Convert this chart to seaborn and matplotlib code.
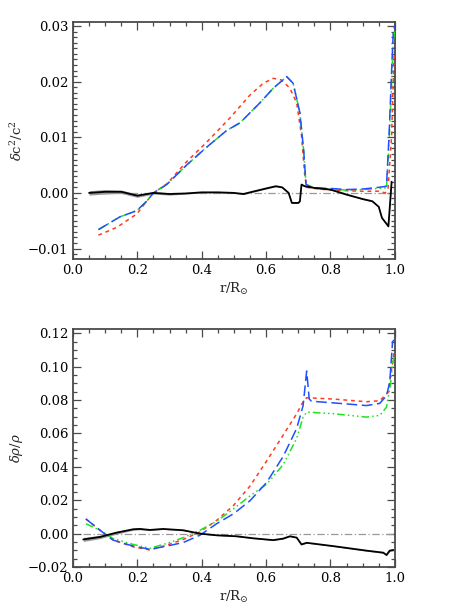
import numpy as np
import pandas as pd
import matplotlib
matplotlib.use("Agg")
import matplotlib.pyplot as plt
from matplotlib.ticker import MultipleLocator
import seaborn as sns

# ---------------- data: top panel (delta c^2 / c^2) ----------------
c_red_r = [0.079, 0.136, 0.198, 0.229, 0.25, 0.291, 0.353, 0.415, 0.488, 0.55, 0.591,
           0.622, 0.648, 0.674, 0.695, 0.71, 0.72, 0.726, 0.75, 0.8, 0.85, 0.9, 0.95,
           0.97, 0.979, 0.99, 0.995, 0.998]
c_red_v = [-0.0076, -0.0062, -0.0038, -0.0015, 0.0, 0.0016, 0.0056, 0.0091, 0.0135, 0.0176,
           0.0197, 0.0206, 0.0203, 0.0188, 0.0162, 0.0103, 0.0032, 0.0010, 0.0008, 0.0005,
           0.0004, 0.0003, 0.0003, 0.0, 0.0009, 0.0103, 0.0203, 0.0250]

c_blue_r = [0.079, 0.146, 0.198, 0.229, 0.25, 0.291, 0.353, 0.415, 0.477, 0.519, 0.581,
            0.622, 0.664, 0.684, 0.705, 0.717, 0.724, 0.75, 0.8, 0.85, 0.9, 0.95, 0.974,
            0.982, 0.99, 0.995, 0.999]
c_blue_v = [-0.0066, -0.0043, -0.0032, -0.0015, 0.0, 0.0015, 0.0050, 0.0082, 0.0112, 0.0126,
            0.0162, 0.0188, 0.0209, 0.0197, 0.0144, 0.0074, 0.0015, 0.0009, 0.0008, 0.0006,
            0.0007, 0.0010, 0.0012, 0.0103, 0.0220, 0.0288, 0.0300]

c_green_r = c_blue_r
c_green_v = [-0.0066, -0.0043, -0.0032, -0.0015, 0.0, 0.0015, 0.0050, 0.0082, 0.0112, 0.0126,
             0.0162, 0.0188, 0.0209, 0.0197, 0.0144, 0.0074, 0.0015, 0.0009, 0.0007, 0.0005,
             0.0006, 0.0008, 0.0009, 0.0090, 0.0200, 0.0270, 0.0290]

c_obs_r = [0.05, 0.1, 0.15, 0.2, 0.25, 0.3, 0.35, 0.4, 0.45, 0.5, 0.53, 0.55, 0.6, 0.63,
           0.65, 0.67, 0.68, 0.7, 0.705, 0.71, 0.72, 0.75, 0.8, 0.85, 0.9, 0.93, 0.95,
           0.96, 0.98, 0.99]
c_obs_v = [0.0, 0.0002, 0.0002, -0.0005, 0.0, -0.0002, -0.0001, 0.0001, 0.0001, 0.0,
           -0.0002, 0.0001, 0.0008, 0.0012, 0.0010, 0.0, -0.0018, -0.0018, -0.0015, 0.0015,
           0.0012, 0.0009, 0.0006, -0.0003, -0.0011, -0.0015, -0.0025, -0.0045, -0.0060, 0.0020]
c_obs_err = [0.0004, 0.0004, 0.0003, 0.0003, 0.0002, 0.0002, 0.0001, 0.0001, 0.0001, 0.0001,
             0.0001, 0.0001, 0.0001, 0.0001, 0.0001, 0.0001, 0.0001, 0.0001, 0.0001, 0.0001,
             0.0001, 0.0001, 0.0001, 0.0001, 0.0001, 0.0001, 0.0001, 0.0001, 0.0002, 0.0003]

# ---------------- data: bottom panel (delta rho / rho) ----------------
d_red_r = [0.04, 0.084, 0.125, 0.187, 0.239, 0.291, 0.343, 0.394, 0.446, 0.498, 0.55,
           0.601, 0.653, 0.695, 0.717, 0.726, 0.809, 0.912, 0.953, 0.979, 0.993, 0.998]
d_red_v = [0.0088, 0.0020, -0.0039, -0.0079, -0.0098, -0.0069, -0.0035, 0.0010, 0.0079,
           0.0167, 0.0285, 0.0433, 0.0590, 0.0718, 0.0797, 0.0814, 0.0806, 0.0790, 0.0796,
           0.0846, 0.1020, 0.1100]

d_blue_r = [0.04, 0.084, 0.125, 0.187, 0.239, 0.291, 0.343, 0.394, 0.446, 0.498, 0.55,
            0.601, 0.653, 0.695, 0.715, 0.726, 0.734, 0.741, 0.809, 0.912, 0.953, 0.974,
            0.984, 0.993, 0.998]
d_blue_v = [0.0088, 0.0020, -0.0039, -0.0075, -0.0094, -0.0075, -0.0053, -0.0010, 0.0059,
            0.0118, 0.0197, 0.0305, 0.0462, 0.0630, 0.0767, 0.0974, 0.0806, 0.0793, 0.0783,
            0.0767, 0.0780, 0.0826, 0.0905, 0.1150, 0.1160]

d_green_r = [0.04, 0.084, 0.125, 0.187, 0.239, 0.291, 0.343, 0.394, 0.446, 0.498, 0.55,
             0.601, 0.653, 0.695, 0.715, 0.726, 0.809, 0.912, 0.953, 0.974, 0.986, 0.993, 0.998]
d_green_v = [0.0059, 0.0020, -0.0030, -0.0065, -0.0088, -0.0059, -0.0024, 0.0020, 0.0073,
             0.0147, 0.0226, 0.0295, 0.0413, 0.0570, 0.0698, 0.0728, 0.0718, 0.0698, 0.0708,
             0.0757, 0.0885, 0.1020, 0.1060]

d_obs_r = [0.032, 0.084, 0.136, 0.187, 0.208, 0.239, 0.28, 0.343, 0.394, 0.446, 0.508,
           0.56, 0.622, 0.653, 0.674, 0.695, 0.71, 0.726, 0.809, 0.912, 0.964, 0.974,
           0.984, 0.995]
d_obs_v = [-0.0035, -0.0020, 0.0006, 0.0026, 0.0028, 0.0022, 0.0028, 0.0020, 0.0, -0.0010,
           -0.0016, -0.0028, -0.0039, -0.0030, -0.0016, -0.0024, -0.0065, -0.0055, -0.0075,
           -0.0102, -0.0114, -0.0128, -0.0102, -0.0098]
d_obs_err = [0.0012, 0.0010, 0.0008, 0.0006, 0.0005, 0.0004, 0.0003, 0.0003, 0.0002, 0.0002,
             0.0002, 0.0002, 0.0002, 0.0002, 0.0002, 0.0002, 0.0002, 0.0002, 0.0002, 0.0003,
             0.0004, 0.0005, 0.0005, 0.0005]

# ---------------- style ----------------
sns.set_theme(style="ticks")
plt.rcParams["font.family"] = ["DejaVu Serif"]
plt.rcParams["mathtext.fontset"] = "dejavuserif"
plt.rcParams["axes.edgecolor"] = "#4a4a4a"
plt.rcParams["xtick.color"] = "#4a4a4a"
plt.rcParams["ytick.color"] = "#4a4a4a"
plt.rcParams["xtick.labelcolor"] = "black"
plt.rcParams["ytick.labelcolor"] = "black"

RED = "#ff3b1f"
BLUE = "#1f4fff"
GREEN = "#22e022"
LW = 1.1

fig = plt.figure(figsize=(4.74, 6.14), dpi=100)
ax1 = fig.add_axes([0.154, 0.578, 0.679, 0.386])
ax2 = fig.add_axes([0.154, 0.076, 0.679, 0.388])


def draw(ax, obs_r, obs_v, obs_err, red, green, blue, zero_start):
    r = np.array(obs_r)
    v = np.array(obs_v)
    e = np.array(obs_err)
    ax.fill_between(r, v - e, v + e, color="#9a9a9a", lw=0, zorder=1)
    ax.plot([zero_start, 1.0], [0, 0], color="#999999", lw=0.9,
            ls=(0, (6, 2, 1, 2)), zorder=1)
    sns.lineplot(x=red[0], y=red[1], ax=ax, color=RED, lw=LW, sort=False,
                 estimator=None, linestyle=(0, (2.5, 2.5)), zorder=3)
    sns.lineplot(x=green[0], y=green[1], ax=ax, color=GREEN, lw=LW, sort=False,
                 estimator=None, linestyle=(0, (5, 2, 1, 2, 1, 2, 1, 2)), zorder=3)
    sns.lineplot(x=blue[0], y=blue[1], ax=ax, color=BLUE, lw=LW, sort=False,
                 estimator=None, linestyle=(0, (7, 3)), zorder=4)
    sns.lineplot(x=obs_r, y=obs_v, ax=ax, color="black", lw=1.3, sort=False,
                 estimator=None, zorder=5)


draw(ax1, c_obs_r, c_obs_v, c_obs_err, (c_red_r, c_red_v), (c_green_r, c_green_v),
     (c_blue_r, c_blue_v), 0.05)
draw(ax2, d_obs_r, d_obs_v, d_obs_err, (d_red_r, d_red_v), (d_green_r, d_green_v),
     (d_blue_r, d_blue_v), 0.03)

ax1.set_xlim(0, 1.0)
ax1.set_ylim(-0.0119, 0.0307)
ax1.yaxis.set_major_locator(MultipleLocator(0.01))
ax1.yaxis.set_minor_locator(MultipleLocator(0.001))
ax1.set_ylabel(r"$\delta$c$^2$/c$^2$", fontsize=9.5, labelpad=2)

ax2.set_xlim(0, 1.0)
ax2.set_ylim(-0.0202, 0.1225)
ax2.yaxis.set_major_locator(MultipleLocator(0.02))
ax2.yaxis.set_minor_locator(MultipleLocator(0.005))
ax2.set_ylabel(r"$\delta\rho$/$\rho$", fontsize=9.5, labelpad=2)

for ax in (ax1, ax2):
    ax.xaxis.set_major_locator(MultipleLocator(0.2))
    ax.xaxis.set_minor_locator(MultipleLocator(0.05))
    ax.xaxis.set_major_formatter(matplotlib.ticker.FormatStrFormatter("%.1f"))
    ax.yaxis.set_major_formatter(
        matplotlib.ticker.FuncFormatter(lambda v, p: ("%.2f" % v).replace("-", "\u2212")))
    ax.tick_params(which="both", direction="in", top=True, right=True, labelsize=9.5,
                   width=0.9)
    ax.tick_params(which="major", length=6)
    ax.tick_params(which="minor", length=3)
    for s in ax.spines.values():
        s.set_linewidth(1.3)
        s.set_visible(True)
    ax.set_xlabel(r"r/R$_{\odot}$", fontsize=9.5, labelpad=3)

fig.savefig("out.png", dpi=100)
